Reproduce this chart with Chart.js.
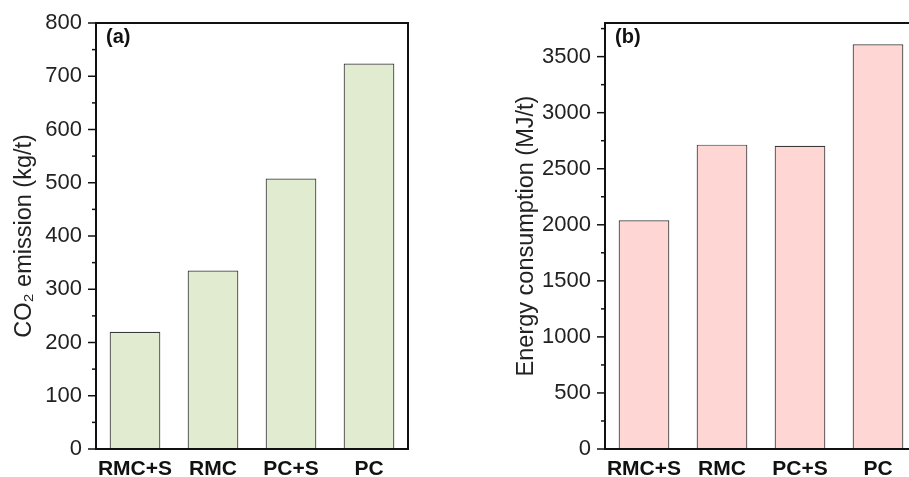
<!DOCTYPE html>
<html>
<head>
<meta charset="utf-8">
<script src="https://cdn.jsdelivr.net/npm/chart.js@4/dist/chart.umd.min.js"></script>
<style>
  html, body { margin: 0; padding: 0; background: #fff; overflow: hidden; width: 909px; height: 477px; }
  .panel { position: absolute; top: 0; }
</style>
</head>
<body>
<div class="panel" style="left:0"><canvas id="chartA" width="460" height="477"></canvas></div>
<div class="panel" style="left:480px"><canvas id="chartB" width="460" height="477"></canvas></div>
<script>
// Data
const categories = ['RMC+S', 'RMC', 'PC+S', 'PC'];
const co2Values = [220, 335, 508, 724];
const energyValues = [2040, 2715, 2705, 3610];
const co2Ticks = [0, 100, 200, 300, 400, 500, 600, 700, 800];
const energyTicks = [0, 500, 1000, 1500, 2000, 2500, 3000, 3500];

const FONT = '"Liberation Sans", Arial, sans-serif';

// Frame, outward tick marks (major + minor) and panel letter
const frameAndTicks = {
    id: 'frameAndTicks',
    afterDraw(chart, args, opts) {
        const { ctx, chartArea: a, scales: { y } } = chart;
        ctx.save();
        ctx.strokeStyle = '#111';
        ctx.lineWidth = 2;
        ctx.strokeRect(a.left, a.top, a.right - a.left, a.bottom - a.top);
        ctx.lineWidth = 1.5;
        for (let v = 0; v <= y.max; v += opts.minor) {
            const py = y.getPixelForValue(v);
            const len = v % opts.major === 0 ? 8 : 4;
            ctx.beginPath();
            ctx.moveTo(a.left - len, py);
            ctx.lineTo(a.left, py);
            ctx.stroke();
        }
        ctx.font = 'bold 20px ' + FONT;
        ctx.fillStyle = '#111';
        ctx.textBaseline = 'alphabetic';
        ctx.fillText(opts.label, a.left + 10, a.top + 20);
        ctx.restore();
    }
};

function makeChart(canvasId, values, tickValues, opt) {
    const ctx = document.getElementById(canvasId).getContext('2d');
    return new Chart(ctx, {
        type: 'bar',
        data: {
            labels: categories,
            datasets: [{
                data: values,
                backgroundColor: opt.fill,
                borderColor: '#3a3a3a',
                borderWidth: 1.2,
                barPercentage: 0.65,
                categoryPercentage: 1
            }]
        },
        options: {
            responsive: false,
            animation: false,
            layout: { padding: { top: 23, right: opt.padRight, left: 0, bottom: 0 } },
            plugins: {
                legend: { display: false },
                tooltip: { enabled: false },
                frameAndTicks: { label: opt.label, major: opt.major, minor: opt.major / 2 }
            },
            scales: {
                x: {
                    grid: { display: false },
                    border: { display: false },
                    ticks: {
                        padding: 0,
                        color: '#111',
                        autoSkip: false,
                        maxRotation: 0,
                        minRotation: 0,
                        font: { family: FONT, size: 21, weight: 'bold' }
                    },
                    afterFit(scale) { scale.height = 28; }
                },
                y: {
                    min: 0,
                    max: opt.max,
                    grid: { display: false },
                    border: { display: false },
                    ticks: {
                        autoSkip: false,
                        padding: 6,
                        color: '#222',
                        font: { family: FONT, size: 22 },
                        callback: v => String(v)
                    },
                    afterBuildTicks(scale) {
                        scale.ticks = tickValues.map(v => ({ value: v }));
                    },
                    title: {
                        display: true,
                        text: opt.title,
                        color: '#222',
                        padding: { top: opt.titlePad, bottom: 0 },
                        font: { family: FONT, size: 23.5 }
                    },
                    afterFit(scale) { scale.width = opt.axisWidth; }
                }
            }
        },
        plugins: [frameAndTicks]
    });
}

makeChart('chartA', co2Values, co2Ticks, {
    fill: '#e1ebd0', max: 800, major: 100, label: '(a)',
    title: 'CO\u2082 emission (kg/t)', axisWidth: 96, padRight: 52, titlePad: 10
});
makeChart('chartB', energyValues, energyTicks, {
    fill: '#fed6d3', max: 3800, major: 500, label: '(b)',
    title: 'Energy consumption (MJ/t)', axisWidth: 125, padRight: 23, titlePad: 32
});
</script>
</body>
</html>
